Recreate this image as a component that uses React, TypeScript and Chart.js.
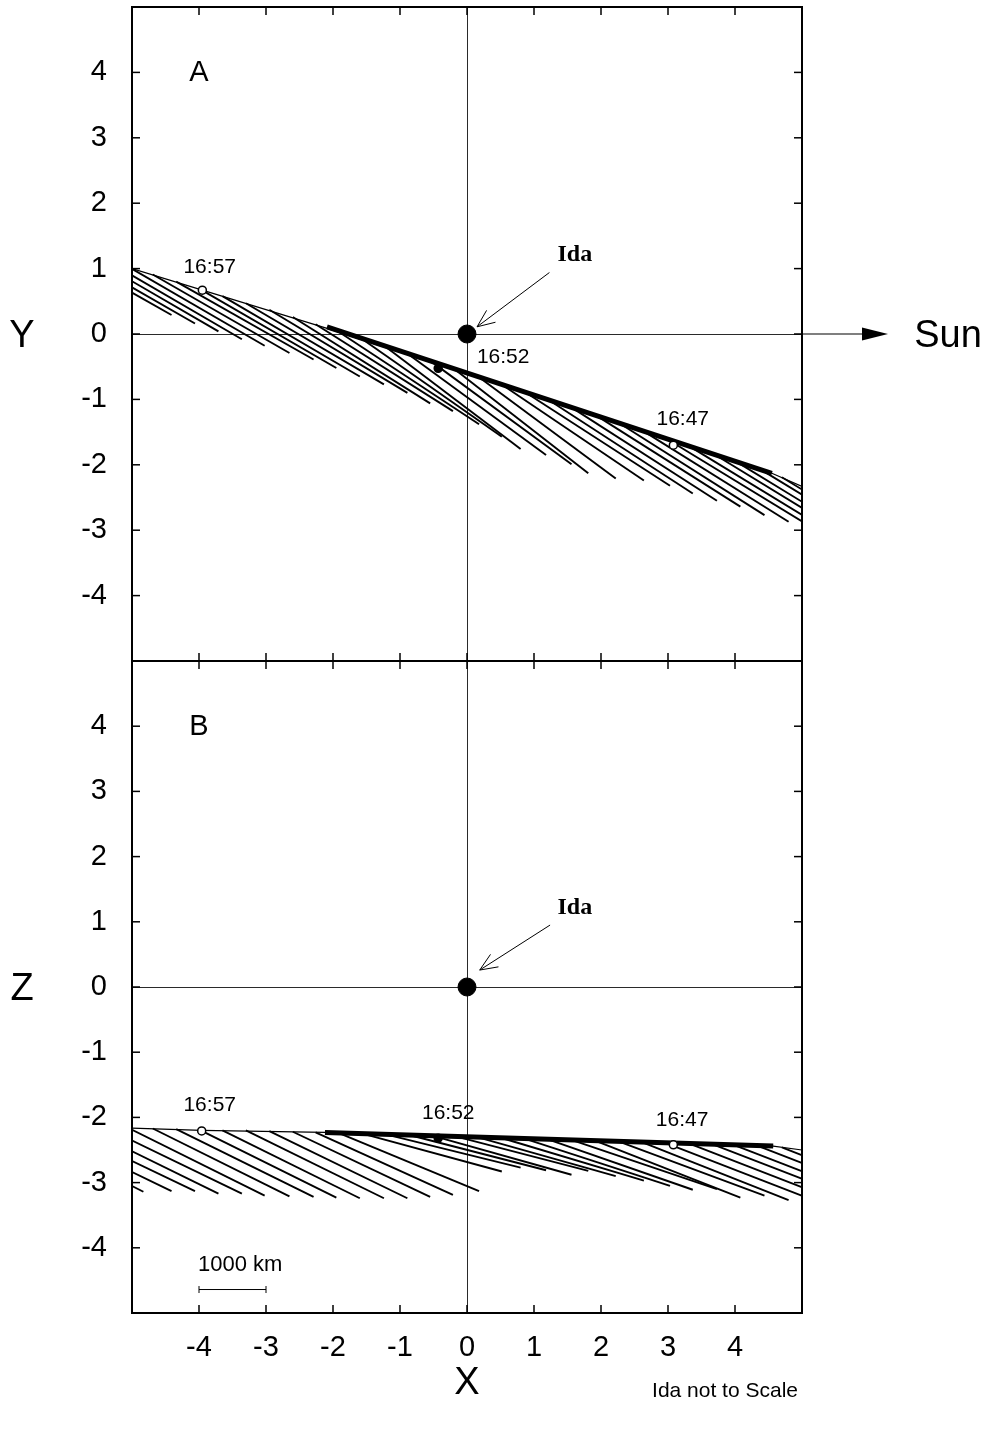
import React, { useEffect, useRef } from "react";
import { Chart, registerables } from "chart.js";

Chart.register(...registerables);

const SANS = "'Liberation Sans', Arial, Helvetica, sans-serif";
const SERIF = "'Liberation Serif', 'Times New Roman', serif";

// Shared axis ticks (both panels, both axes)
const axisTicks = [-4, -3, -2, -1, 0, 1, 2, 3, 4];
const timeLabels = ["16:57", "16:52", "16:47"];

// ---------- Panel A: X–Y projection ----------
const trajA_x = [-5, -3.95, -2.1, 4.55, 5.0];
const trajA_y = [1.0, 0.67, 0.09, -2.13, -2.33];
const thickA_x = [-2.09, 4.55];
const thickA_y = [0.11, -2.13];
const markA_x = [-3.95, -0.43, 3.08];
const markA_y = [0.67, -0.525, -1.7];
// field vectors: start on the trajectory (x0, y0), tip at (x1, y1)
const hatchA_x0 = [-6.43, -6.08, -5.73, -5.39, -5.04, -4.69, -4.34, -3.99, -3.65, -3.3, -2.95, -2.6, -2.26, -1.91, -1.56, -1.21, -0.86, -0.52, -0.17, 0.18, 0.53, 0.87, 1.22, 1.57, 1.92, 2.27, 2.61, 2.96, 3.31, 3.66, 4.0, 4.35, 4.7];
const hatchA_y0 = [1.46, 1.35, 1.24, 1.13, 1.02, 0.91, 0.8, 0.69, 0.58, 0.47, 0.37, 0.26, 0.15, 0.03, -0.08, -0.2, -0.32, -0.43, -0.55, -0.66, -0.78, -0.89, -1.01, -1.13, -1.24, -1.36, -1.47, -1.59, -1.71, -1.82, -1.94, -2.05, -2.19];
const hatchA_x1 = [-4.41, -4.06, -3.71, -3.36, -3.02, -2.65, -2.29, -1.95, -1.6, -1.24, -0.89, -0.55, -0.21, 0.18, 0.52, 0.8, 1.18, 1.56, 1.81, 2.22, 2.64, 3.03, 3.37, 3.73, 4.08, 4.44, 4.8, 5.2, 5.55, 5.9, 6.24, 6.59, 6.94];
const hatchA_y1 = [0.29, 0.16, 0.04, -0.08, -0.18, -0.29, -0.39, -0.52, -0.65, -0.77, -0.9, -1.06, -1.18, -1.38, -1.57, -1.76, -1.85, -1.99, -2.13, -2.21, -2.24, -2.32, -2.44, -2.55, -2.64, -2.77, -2.87, -2.99, -3.11, -3.22, -3.34, -3.45, -3.59];

// ---------- Panel B: X–Z projection ----------
const trajB_x = [-5, -3.96, -2.12, 4.57, 5.0];
const trajB_y = [-2.166, -2.2, -2.23, -2.44, -2.5];
const thickB_x = [-2.12, 4.57];
const thickB_y = [-2.23, -2.44];
const markB_x = [-3.96, -0.43, 3.08];
const markB_y = [-2.207, -2.32, -2.42];
const hatchB_x0 = [-6.78, -6.43, -6.08, -5.73, -5.39, -5.04, -4.69, -4.34, -3.99, -3.65, -3.3, -2.95, -2.6, -2.26, -1.91, -1.56, -1.21, -0.86, -0.52, -0.17, 0.18, 0.53, 0.87, 1.22, 1.57, 1.92, 2.27, 2.61, 2.96, 3.31, 3.66, 4.0, 4.35, 4.7];
const hatchB_y0 = [-2.13, -2.13, -2.14, -2.15, -2.16, -2.17, -2.17, -2.18, -2.19, -2.2, -2.2, -2.21, -2.22, -2.23, -2.24, -2.25, -2.26, -2.27, -2.28, -2.29, -2.31, -2.32, -2.33, -2.34, -2.35, -2.36, -2.37, -2.38, -2.39, -2.4, -2.41, -2.43, -2.44, -2.46];
const hatchB_x1 = [-4.83, -4.41, -4.06, -3.71, -3.36, -3.02, -2.65, -2.29, -1.95, -1.6, -1.24, -0.89, -0.55, -0.21, 0.18, 0.52, 0.8, 1.18, 1.56, 1.81, 2.22, 2.64, 3.03, 3.37, 3.73, 4.08, 4.44, 4.8, 5.2, 5.55, 5.9, 6.24, 6.59, 6.94];
const hatchB_y1 = [-3.14, -3.13, -3.13, -3.17, -3.17, -3.2, -3.21, -3.22, -3.23, -3.24, -3.24, -3.24, -3.22, -3.19, -3.13, -2.83, -2.77, -2.81, -2.88, -2.82, -2.9, -2.97, -3.05, -3.11, -3.1, -3.23, -3.2, -3.27, -3.28, -3.29, -3.3, -3.32, -3.33, -3.35];

type Panel = {
  key: string;
  letter: string;
  axisName: string;
  trajX: number[];
  trajY: number[];
  thickX: number[];
  thickY: number[];
  markX: number[];
  markY: number[];
  hx0: number[];
  hy0: number[];
  hx1: number[];
  hy1: number[];
  // annotation placement (data units)
  timePos: [number, number][];
  idaText: [number, number];
  idaArrow: [number, number, number, number];
  bottomPanel: boolean;
};

const panelA: Panel = {
  key: "A",
  letter: "A",
  axisName: "Y",
  trajX: trajA_x,
  trajY: trajA_y,
  thickX: thickA_x,
  thickY: thickA_y,
  markX: markA_x,
  markY: markA_y,
  hx0: hatchA_x0,
  hy0: hatchA_y0,
  hx1: hatchA_x1,
  hy1: hatchA_y1,
  timePos: [[-3.84, 1.02], [0.54, -0.35], [3.22, -1.31]],
  idaText: [1.61, 1.21],
  idaArrow: [1.23, 0.94, 0.15, 0.11],
  bottomPanel: false,
};

const panelB: Panel = {
  key: "B",
  letter: "B",
  axisName: "Z",
  trajX: trajB_x,
  trajY: trajB_y,
  thickX: thickB_x,
  thickY: thickB_y,
  markX: markB_x,
  markY: markB_y,
  hx0: hatchB_x0,
  hy0: hatchB_y0,
  hx1: hatchB_x1,
  hy1: hatchB_y1,
  timePos: [[-3.84, -1.82], [-0.28, -1.93], [3.21, -2.04]],
  idaText: [1.61, 1.21],
  idaArrow: [1.24, 0.95, 0.19, 0.26],
  bottomPanel: true,
};

function overlayPlugin(p: Panel) {
  return {
    id: "overlay" + p.key,
    afterDraw(chart: any) {
      const { ctx, chartArea: a, scales } = chart;
      const xs = scales.x;
      const ys = scales.y;
      const X = (v: number) => xs.getPixelForValue(v);
      const Y = (v: number) => ys.getPixelForValue(v);
      const seg = (x0: number, y0: number, x1: number, y1: number) => {
        ctx.beginPath();
        ctx.moveTo(x0, y0);
        ctx.lineTo(x1, y1);
        ctx.stroke();
      };
      ctx.save();
      ctx.strokeStyle = "#000";
      ctx.fillStyle = "#000";

      // frame
      ctx.lineWidth = 2;
      ctx.strokeRect(a.left, a.top, a.right - a.left, a.bottom - a.top);

      // inward tick marks on all four sides
      ctx.lineWidth = 1.5;
      for (const v of axisTicks) {
        const px = X(v);
        seg(px, a.top, px, a.top + 8);
        seg(px, a.bottom, px, a.bottom - 8);
        const py = Y(v);
        seg(a.left, py, a.left + 8, py);
        seg(a.right, py, a.right - 8, py);
      }

      const text = (s: string, x: number, y: number, font: string, align: CanvasTextAlign = "center") => {
        ctx.font = font;
        ctx.textAlign = align;
        ctx.textBaseline = "middle";
        ctx.fillText(s, x, y);
      };

      // panel letter and axis name
      text(p.letter, X(-4), Y(4) + 1, `29px ${SANS}`);
      text(p.axisName, 22, Y(0) + 3, `38px ${SANS}`);

      // time labels
      p.timePos.forEach((pos, i) => text(timeLabels[i], X(pos[0]), Y(pos[1]), `21px ${SANS}`));

      // Ida label with open-headed arrow
      text("Ida", X(p.idaText[0]), Y(p.idaText[1]), `bold 24px ${SERIF}`);
      const [ax0, ay0, ax1, ay1] = p.idaArrow;
      const sx = X(ax0), sy = Y(ay0), tx = X(ax1), ty = Y(ay1);
      ctx.lineWidth = 1;
      seg(sx, sy, tx, ty);
      const ang = Math.atan2(sy - ty, sx - tx);
      const hl = 19;
      for (const d of [-0.4, 0.4]) {
        seg(tx, ty, tx + hl * Math.cos(ang + d), ty + hl * Math.sin(ang + d));
      }

      if (!p.bottomPanel) {
        // direction to the Sun
        const y0 = Y(0);
        ctx.lineWidth = 1.2;
        seg(a.right, y0, a.right + 64, y0);
        ctx.beginPath();
        ctx.moveTo(a.right + 86, y0);
        ctx.lineTo(a.right + 60, y0 - 6.5);
        ctx.lineTo(a.right + 60, y0 + 6.5);
        ctx.closePath();
        ctx.fill();
        text("Sun", a.right + 146, y0 + 3, `38px ${SANS}`);
      } else {
        // 1000 km scale bar
        const bx0 = X(-4), bx1 = X(-3), by = Y(-4.64);
        ctx.lineWidth = 1;
        seg(bx0, by, bx1, by);
        seg(bx0, by - 3.5, bx0, by + 3.5);
        seg(bx1, by - 3.5, bx1, by + 3.5);
        text("1000 km", bx0 - 1, Y(-4.26), `22px ${SANS}`, "left");
        text("X", X(0), a.bottom + 71, `38px ${SANS}`);
        text("Ida not to Scale", a.right - 4, a.bottom + 78, `21px ${SANS}`, "right");
      }
      ctx.restore();
    },
  };
}

function buildConfig(p: Panel, pad: { top: number; right: number }, xAxisHeight: number) {
  const hatch = p.hx0.map((x0, i) => ({
    data: [
      { x: x0, y: p.hy0[i] },
      { x: p.hx1[i], y: p.hy1[i] },
    ],
    showLine: true,
    borderColor: "#000",
    borderWidth: 1.9,
    pointRadius: 0,
    pointHoverRadius: 0,
    clip: 0,
  }));
  const datasets: any[] = [
    {
      data: [{ x: 0, y: 0 }],
      pointRadius: 9,
      pointBackgroundColor: "#000",
      pointBorderColor: "#000",
      showLine: false,
    },
    {
      data: p.markX.map((x, i) => ({ x, y: p.markY[i] })),
      pointRadius: 4,
      pointBorderWidth: 1.5,
      pointBorderColor: "#000",
      pointBackgroundColor: ["#fff", "#000", "#fff"],
      showLine: false,
      clip: 0,
    },
    {
      data: p.thickX.map((x, i) => ({ x, y: p.thickY[i] })),
      showLine: true,
      borderColor: "#000",
      borderWidth: 5,
      pointRadius: 0,
      clip: 0,
    },
    {
      data: p.trajX.map((x, i) => ({ x, y: p.trajY[i] })),
      showLine: true,
      borderColor: "#000",
      borderWidth: 1.2,
      pointRadius: 0,
      clip: 0,
    },
    ...hatch,
  ];

  const gridColor = (c: any) => (c.tick && c.tick.value === 0 ? "#2a2a2a" : "rgba(0,0,0,0)");
  const setTicks = (s: any) => {
    s.ticks = axisTicks.map((v) => ({ value: v }));
  };
  // fixed axis sizes; drop the label overflow padding so the plot box is exact
  const fixX = (s: any) => {
    s.height = xAxisHeight;
    s.paddingLeft = 0;
    s.paddingRight = 0;
    s.paddingTop = 0;
    s.paddingBottom = 0;
  };
  const fixY = (s: any) => {
    s.width = 132;
    s.paddingLeft = 0;
    s.paddingRight = 0;
    s.paddingTop = 0;
    s.paddingBottom = 0;
  };

  return {
    type: "scatter",
    data: { datasets },
    options: {
      responsive: false,
      animation: false,
      events: [],
      layout: { autoPadding: false, padding: { left: 0, right: pad.right, top: pad.top, bottom: 0 } },
      plugins: { legend: { display: false }, tooltip: { enabled: false } },
      scales: {
        x: {
          type: "linear",
          min: -5,
          max: 5,
          afterBuildTicks: setTicks,
          afterFit: fixX,
          border: { display: false },
          grid: { color: gridColor, lineWidth: 1, drawTicks: false },
          ticks: {
            display: p.bottomPanel,
            autoSkip: false,
            maxRotation: 0,
            padding: 18,
            color: "#000",
            font: { family: SANS, size: 29 },
          },
        },
        y: {
          type: "linear",
          position: "left",
          min: -5,
          max: 5,
          afterBuildTicks: setTicks,
          afterFit: fixY,
          border: { display: false },
          grid: { color: gridColor, lineWidth: 1, drawTicks: false },
          ticks: {
            autoSkip: false,
            padding: 25,
            color: "#000",
            font: { family: SANS, size: 29 },
          },
        },
      },
    },
    plugins: [overlayPlugin(p)],
  };
}

export default function App() {
  const refA = useRef<HTMLCanvasElement | null>(null);
  const refB = useRef<HTMLCanvasElement | null>(null);

  useEffect(() => {
    const charts: Chart[] = [];
    if (refA.current) {
      charts.push(new Chart(refA.current, buildConfig(panelA, { top: 7, right: 185 }, 39) as any));
    }
    if (refB.current) {
      charts.push(new Chart(refB.current, buildConfig(panelB, { top: 61, right: 185 }, 116) as any));
    }
    return () => charts.forEach((c) => c.destroy());
  }, []);

  return (
    <div style={{ position: "absolute", left: 0, top: 0, width: 987, height: 1429, background: "#fff" }}>
      <canvas
        ref={refA}
        width={987}
        height={700}
        style={{ position: "absolute", left: 0, top: 0, width: 987, height: 700 }}
      />
      <canvas
        ref={refB}
        width={987}
        height={829}
        style={{ position: "absolute", left: 0, top: 600, width: 987, height: 829 }}
      />
    </div>
  );
}
